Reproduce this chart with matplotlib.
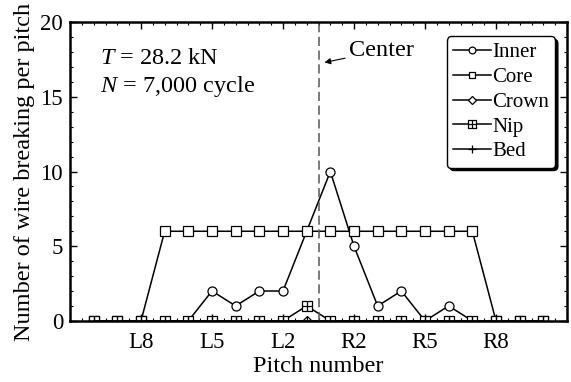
import matplotlib
matplotlib.use("Agg")
import matplotlib.pyplot as plt
from matplotlib.path import Path
from matplotlib.ticker import MultipleLocator, FixedLocator

plt.rcParams["font.family"] = ["Liberation Serif", "DejaVu Serif"]
plt.rcParams["mathtext.fontset"] = "custom"
plt.rcParams["mathtext.rm"] = "Liberation Serif"
plt.rcParams["mathtext.it"] = "Liberation Serif:italic"

pitch = list(range(1, 21))
tick_pos = [3, 6, 9, 12, 15, 18]
tick_labels = ["L8", "L5", "L2", "R2", "R5", "R8"]

inner = [0, 0, 0, 0, 0, 2, 1, 2, 2, 6, 10, 5, 1, 2, 0, 1, 0, 0, 0, 0]
core = [0, 0, 0, 6, 6, 6, 6, 6, 6, 6, 6, 6, 6, 6, 6, 6, 6, 0, 0, 0]
crown = [0] * 20
nip = [0, 0, 0, 0, 0, 0, 0, 0, 0, 1, 0, 0, 0, 0, 0, 0, 0, 0, 0, 0]
bed = [0] * 20

# square with a cross inside
nip_marker = Path(
    [(-1, -1), (1, -1), (1, 1), (-1, 1), (-1, -1), (0, -1), (0, 1), (-1, 0), (1, 0)],
    [Path.MOVETO, Path.LINETO, Path.LINETO, Path.LINETO, Path.CLOSEPOLY,
     Path.MOVETO, Path.LINETO, Path.MOVETO, Path.LINETO],
)

fig = plt.figure(figsize=(5.71, 3.82), dpi=100)
ax = fig.add_axes([0.1226, 0.16, 0.8704, 0.782])

style = dict(color="black", lw=1.1, mfc="white", mec="black", mew=0.9)
ax.plot(pitch, inner, marker="o", ms=6.5, label="Inner", **style)
ax.plot(pitch, core, marker="s", ms=6.5, label="Core", **style)
ax.plot(pitch, crown, marker="D", ms=5.5, label="Crown", **style)
ax.plot(pitch, nip, marker=nip_marker, ms=7.2, label="Nip", **style)
ax.plot(pitch, bed, marker="+", ms=7, label="Bed", **style)

ax.axvline(10.5, color="#555555", lw=1.1, ls=(0, (6, 3)))
ax.annotate("Center", xy=(10.75, 17.3), xytext=(11.8, 18.1), fontsize=17.5,
            va="center", ha="left",
            arrowprops=dict(arrowstyle="-|>", color="black", lw=0.8,
                            mutation_scale=9, shrinkA=1, shrinkB=0))

ax.text(1.25, 17.6, r"$T$ = 28.2 kN", fontsize=17.5, va="center")
ax.text(1.25, 15.7, r"$N$ = 7,000 cycle", fontsize=17.5, va="center")

ax.set_xlim(0, 21)
ax.set_ylim(0, 20)
ax.xaxis.set_major_locator(FixedLocator(tick_pos))
ax.set_xticklabels(tick_labels)
ax.xaxis.set_minor_locator(MultipleLocator(0.5))
ax.yaxis.set_major_locator(MultipleLocator(5))
ax.yaxis.set_minor_locator(MultipleLocator(1))
ax.tick_params(which="both", direction="in", top=True, right=True, labelsize=16.5)
ax.tick_params(which="major", length=5, width=1, pad=5)
ax.tick_params(axis="x", which="major", pad=8)
ax.tick_params(which="minor", length=2.5, width=0.8)
for s in ax.spines.values():
    s.set_linewidth(1.8)

ax.set_xlabel("Pitch number", fontsize=17.5, labelpad=2)
ax.set_ylabel("Number of wire breaking per pitch", fontsize=17.5, labelpad=4)

leg = ax.legend(loc="upper right", bbox_to_anchor=(0.976, 0.952), fontsize=15,
                frameon=True, fancybox=True, shadow={"color": "black", "alpha": 1},
                handlelength=1.8, handletextpad=0.05, labelspacing=0.25,
                borderpad=0.3, borderaxespad=0, markerscale=0.75)
leg.get_frame().set_edgecolor("black")
leg.get_frame().set_linewidth(1.0)
leg.get_frame().set_alpha(1)

fig.savefig("out.png", dpi=100)
